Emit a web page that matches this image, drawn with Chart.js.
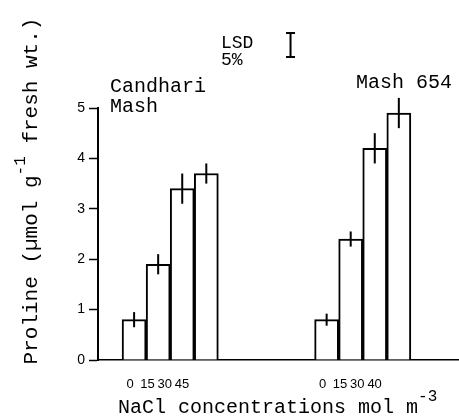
<!DOCTYPE html>
<html>
<head>
<meta charset="utf-8">
<script src="https://cdn.jsdelivr.net/npm/chart.js@4.4.0/dist/chart.umd.min.js"></script>
<style>
  html, body { margin: 0; padding: 0; background: #fff; }
  #wrap { width: 459px; height: 419px; }
</style>
</head>
<body>
<div id="wrap"><canvas id="prolineChart" width="459" height="419"></canvas></div>
<script>
"use strict";

// cultivars and salt levels (mol m-3)
const cultivars = ['Candhari', 'Mash 654'];
const saltLevelsA = ['0', '15', '30', '45'];
const saltLevelsB = ['0', '15', '30', '40'];
// proline, umol g-1 fresh wt.
const prolineA = [0.8, 1.9, 3.4, 3.7];
const prolineB = [0.8, 2.4, 4.2, 4.9];
const errA = [0.15, 0.2, 0.3, 0.2];
const errB = [0.12, 0.15, 0.3, 0.3];
const yTicks = [0, 1, 2, 3, 4, 5];
const LSD5 = 0.48;

const MONO = '"Liberation Mono", "DejaVu Sans Mono", monospace';
const SANS = '"Liberation Sans", Arial, sans-serif';

// slots on the category axis: 1 empty, group A, 4 empty, group B, 2 empty
const blank = n => Array(n).fill(null);
const labels = ['', ...saltLevelsA, '', '', '', '', ...saltLevelsB, '', ''];
const values = [...blank(1), ...prolineA, ...blank(4), ...prolineB, ...blank(2)];
const errors = [...blank(1), ...errA, ...blank(4), ...errB, ...blank(2)];
const groups = [
    { start: 1, levels: saltLevelsA },
    { start: 9, levels: saltLevelsB }
];

// error bars, LSD marker, tick text and axis titles
const annotations = {
    id: 'annotations',
    afterDatasetsDraw(chart) {
        const { ctx, scales: { x, y } } = chart;
        ctx.save();
        ctx.strokeStyle = '#000';
        ctx.lineWidth = 2;
        values.forEach((v, i) => {
            if (v === null) return;
            const px = x.getPixelForValue(i);
            ctx.beginPath();
            ctx.moveTo(px, y.getPixelForValue(v - errors[i]));
            ctx.lineTo(px, y.getPixelForValue(v + errors[i]));
            ctx.stroke();
        });
        ctx.restore();
    },
    afterDraw(chart) {
        const { ctx, chartArea, scales: { x, y } } = chart;
        ctx.save();
        ctx.fillStyle = '#000';
        ctx.strokeStyle = '#000';

        // LSD 5% marker
        const lx = x.getPixelForValue(7.5);
        const lt = y.getPixelForValue(6.25 + LSD5 / 2);
        const lb = y.getPixelForValue(6.25 - LSD5 / 2);
        ctx.lineWidth = 2;
        ctx.beginPath();
        ctx.moveTo(lx, lt); ctx.lineTo(lx, lb);
        ctx.moveTo(lx - 4.5, lt); ctx.lineTo(lx + 4.5, lt);
        ctx.moveTo(lx - 4.5, lb); ctx.lineTo(lx + 4.5, lb);
        ctx.stroke();

        ctx.textAlign = 'left';
        ctx.textBaseline = 'alphabetic';
        ctx.font = `18px ${MONO}`;
        ctx.fillText('LSD', 221, 48);
        ctx.fillText('5%', 221, 65);

        ctx.font = `20px ${MONO}`;
        ctx.fillText(cultivars[0], 110, 92);
        ctx.fillText('Mash', 110, 112);
        ctx.fillText(cultivars[1], 356, 88);

        // salt level labels (typed close together under each group)
        ctx.font = `13px ${SANS}`;
        ctx.textAlign = 'center';
        ctx.textBaseline = 'middle';
        groups.forEach(g => {
            const c0 = x.getPixelForValue(g.start);
            g.levels.forEach((lab, i) => {
                const c = x.getPixelForValue(g.start + i);
                ctx.fillText(lab, c0 + (c - c0) * 0.72 - 4, chartArea.bottom + 24);
            });
        });

        // x title
        ctx.textAlign = 'left';
        ctx.textBaseline = 'alphabetic';
        ctx.font = `20px ${MONO}`;
        const xt = 'NaCl concentrations mol m';
        ctx.fillText(xt, 118, 413);
        const xw = ctx.measureText(xt).width;
        ctx.font = `16px ${MONO}`;
        ctx.fillText('-3', 118 + xw, 401);

        // y title, rotated
        ctx.translate(37, 191);
        ctx.rotate(-Math.PI / 2);
        const p1 = 'Proline (\u00b5mol g';
        const p2 = ' fresh wt.)';
        ctx.font = `16px ${MONO}`;
        const supW = ctx.measureText('-1').width;
        ctx.font = `21px ${MONO}`;
        const w1 = ctx.measureText(p1).width;
        const w2 = ctx.measureText(p2).width;
        let sx = -(w1 + supW + w2) / 2;
        ctx.fillText(p1, sx, 0);
        sx += w1;
        ctx.font = `16px ${MONO}`;
        ctx.fillText('-1', sx, -12);
        sx += supW;
        ctx.font = `21px ${MONO}`;
        ctx.fillText(p2, sx, 0);
        ctx.restore();
    }
};

const ctx = document.getElementById('prolineChart').getContext('2d');
new Chart(ctx, {
    type: 'bar',
    data: {
        labels: labels,
        datasets: [{
            data: values,
            backgroundColor: '#fff',
            borderColor: '#000',
            borderWidth: 2,
            borderSkipped: 'bottom',
            barPercentage: 1.0,
            categoryPercentage: 1.0
        }]
    },
    options: {
        responsive: false,
        animation: false,
        layout: { padding: { top: 108, right: 0, left: 0, bottom: 0 } },
        plugins: { legend: { display: false }, tooltip: { enabled: false } },
        scales: {
            x: {
                grid: { display: false },
                ticks: { display: false },
                border: { display: true, color: '#000', width: 1.5 },
                afterFit: s => { s.height = 59; }
            },
            y: {
                min: yTicks[0], max: yTicks[yTicks.length - 1],
                afterBuildTicks: s => { s.ticks = yTicks.map(v => ({ value: v })); },
                ticks: { color: '#000', padding: 4, font: { family: SANS, size: 14 } },
                grid: { drawOnChartArea: false, drawTicks: true, tickLength: 9, tickColor: '#000', tickWidth: 1.5 },
                border: { display: true, color: '#000', width: 2 },
                afterFit: s => { s.width = 98; }
            }
        }
    },
    plugins: [annotations]
});
</script>
</body>
</html>
